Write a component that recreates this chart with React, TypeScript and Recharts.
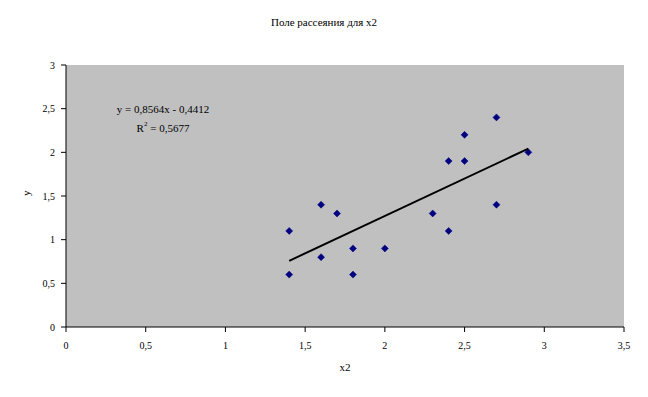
import { ScatterChart, Scatter, XAxis, YAxis, CartesianGrid, Label } from 'recharts'

const x2Values = [1.4, 1.4, 1.6, 1.6, 1.7, 1.8, 1.8, 2.0, 2.3, 2.4, 2.4, 2.5, 2.5, 2.7, 2.7, 2.9]
const yValues = [1.1, 0.6, 1.4, 0.8, 1.3, 0.9, 0.6, 0.9, 1.3, 1.9, 1.1, 2.2, 1.9, 2.4, 1.4, 2.0]

const slope = 0.8564
const intercept = -0.4412
const trendX = [1.4, 2.9]

const xTicks = [0, 0.5, 1, 1.5, 2, 2.5, 3, 3.5]
const yTicks = [0, 0.5, 1, 1.5, 2, 2.5, 3]

const points = x2Values.map((x, i) => ({ x, y: yValues[i] }))
const trend = trendX.map((x) => ({ x, y: slope * x + intercept }))

const FONT = "'Times New Roman', 'Liberation Serif', 'DejaVu Serif', serif"
const fmt = (v: number) => String(v).replace('.', ',')

function Diamond(props: any) {
  const { cx, cy } = props
  if (cx == null || cy == null) return null
  return (
    <polygon
      points={`${cx},${cy - 3.5} ${cx + 3.5},${cy} ${cx},${cy + 3.5} ${cx - 3.5},${cy}`}
      fill="#000080"
      stroke="#000080"
      strokeWidth={0.5}
    />
  )
}

export default function App() {
  return (
    <div style={{ position: 'absolute', left: 0, top: 0, width: 648, height: 397, background: '#fff', fontFamily: FONT }}>
      <div style={{ position: 'absolute', top: 16, left: 0, width: 648, textAlign: 'center', fontSize: 11, color: '#000' }}>
        Поле рассеяния для x2
      </div>
      <ScatterChart width={648} height={397} margin={{ top: 65, right: 24, bottom: 0, left: 0 }}>
        <CartesianGrid horizontal={false} vertical={false} fill="#C0C0C0" stroke="#808080" />
        <XAxis
          type="number"
          dataKey="x"
          domain={[0, 3.5]}
          ticks={xTicks}
          tickFormatter={fmt}
          height={70}
          stroke="#000"
          tickSize={5}
          tick={{ fontSize: 10, fill: '#000', fontFamily: FONT }}
          tickMargin={10}
        >
          <Label value="x2" position="insideBottom" offset={26} style={{ fontSize: 11, fill: '#000', fontFamily: FONT }} />
        </XAxis>
        <YAxis
          type="number"
          dataKey="y"
          domain={[0, 3]}
          ticks={yTicks}
          tickFormatter={fmt}
          width={66}
          stroke="#000"
          tickSize={5}
          tick={{ fontSize: 10, fill: '#000', fontFamily: FONT }}
          tickMargin={6}
        >
          <Label value="y" angle={-90} position="insideLeft" offset={26} style={{ fontSize: 11, fill: '#000', fontFamily: FONT }} />
        </YAxis>
        <Scatter data={points} shape={<Diamond />} isAnimationActive={false} />
        <Scatter
          data={trend}
          line={{ stroke: '#000', strokeWidth: 2 }}
          shape={() => null}
          isAnimationActive={false}
        />
      </ScatterChart>
      <div style={{ position: 'absolute', left: 98, top: 100, width: 130, textAlign: 'center', fontSize: 11, lineHeight: '19px', color: '#000' }}>
        <div>y = 0,8564x - 0,4412</div>
        <div>
          R<sup style={{ fontSize: 7, verticalAlign: 'top', lineHeight: '10px' }}>2</sup> = 0,5677
        </div>
      </div>
    </div>
  )
}
